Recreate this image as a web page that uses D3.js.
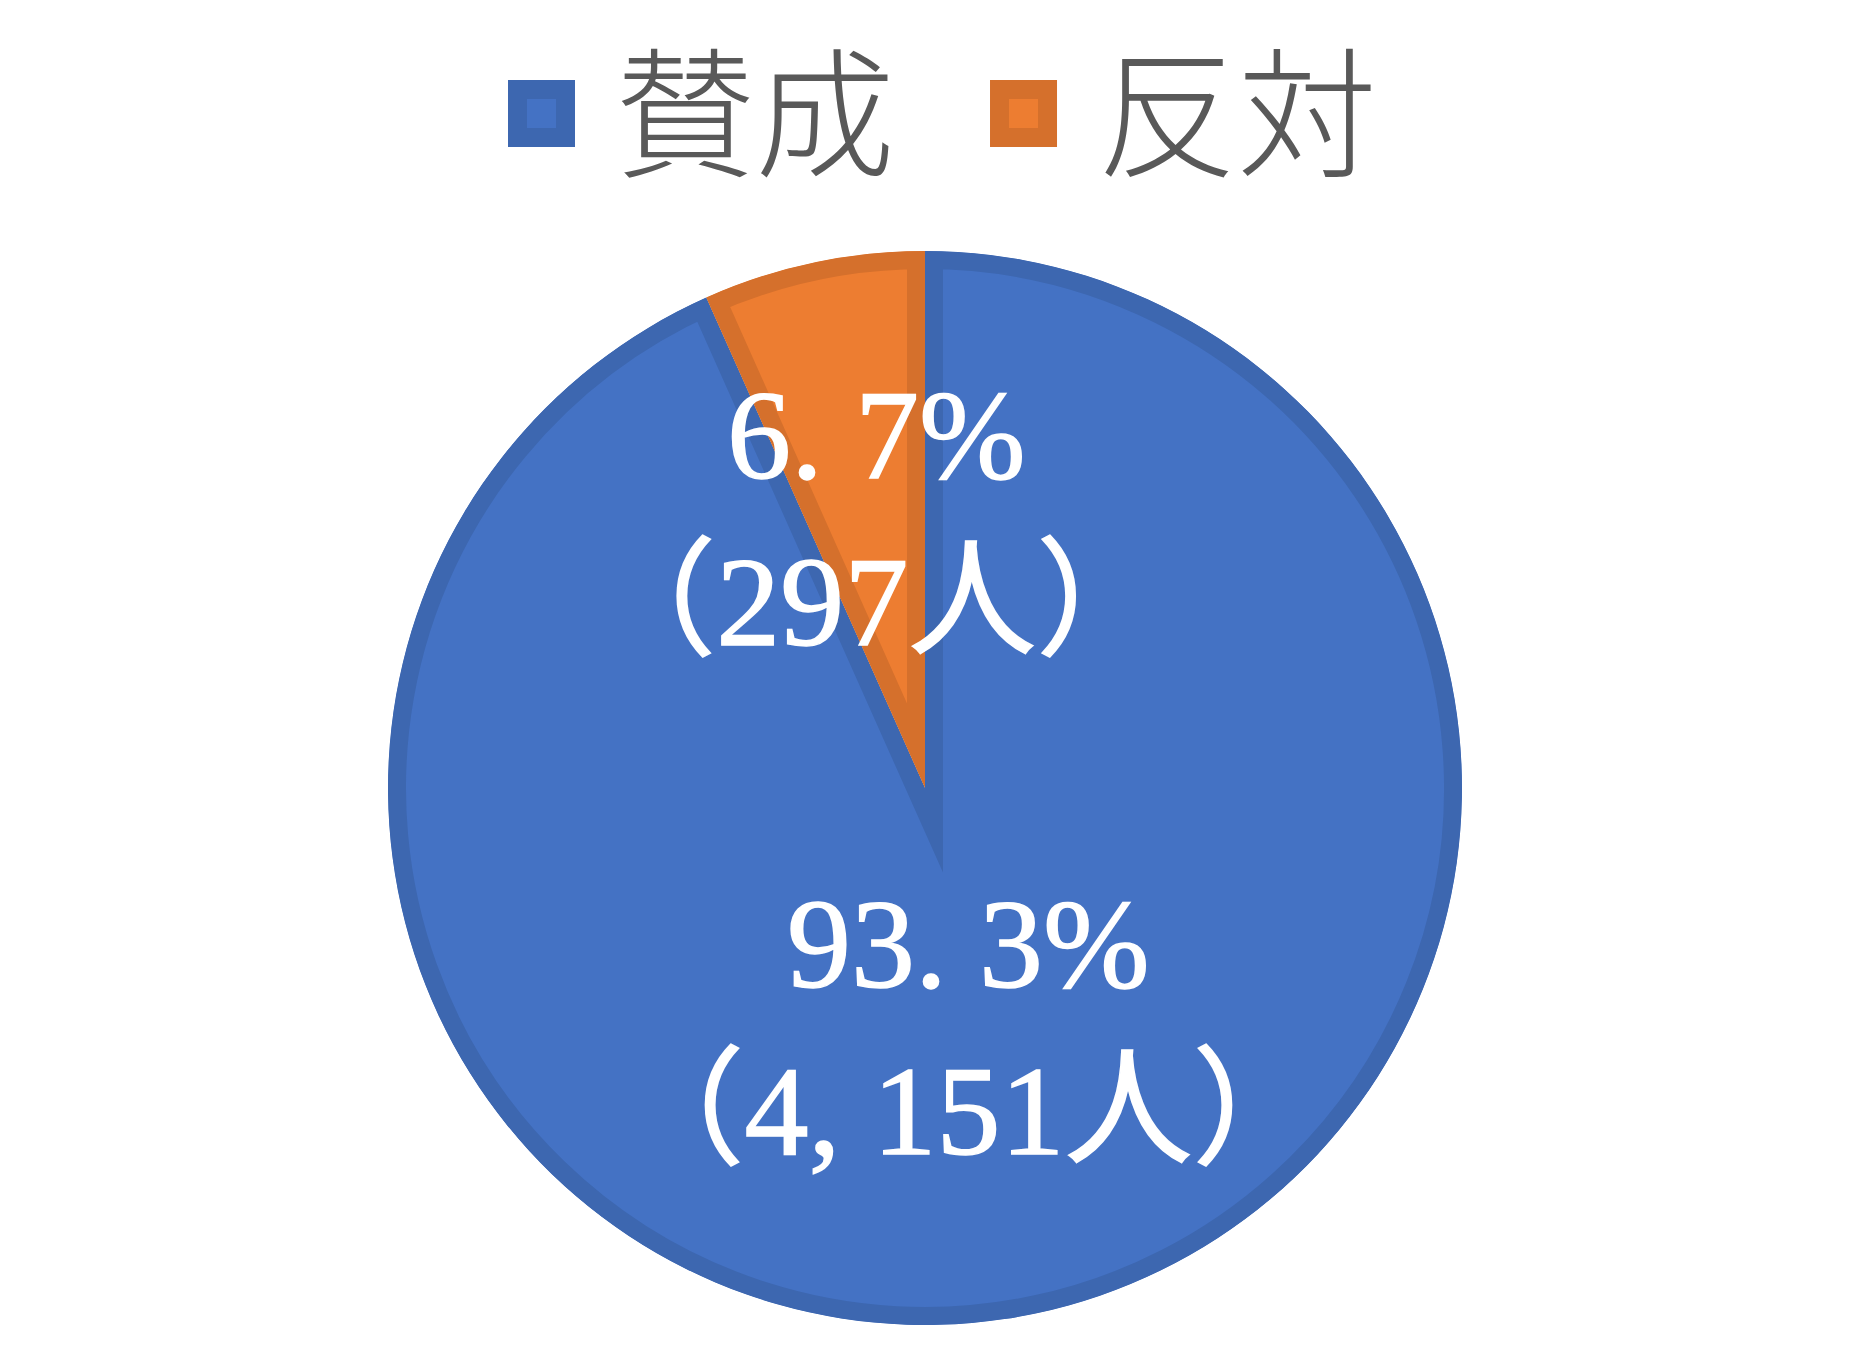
<!DOCTYPE html>
<html>
<head>
<meta charset="utf-8">
<script src="https://cdn.jsdelivr.net/npm/d3@7"></script>
<style>
  body { margin: 0; background: #fff; }
</style>
</head>
<body>
<div id="chart"></div>
<script>
// data
const categories = ['賛成', '反対'];
const counts = [4151, 297];
const fillColors = ['#4472C4', '#ED7D31'];
const borderColors = ['#3D67B0', '#D5702C'];

const W = 1849, H = 1370;
const cx = 925, cy = 788, R = 537;
const border = 18;              // inner border width of each slice
const labelRadius = [245, 275]; // where each data label sits along its slice bisector
const labelLean = 0.85;         // labels sit a little closer to the vertical than the bisector

const data = categories.map((c, i) => ({ name: c, count: counts[i], fill: fillColors[i], stroke: borderColors[i] }));
const total = d3.sum(counts);

const svg = d3.select('#chart').append('svg')
    .attr('width', W)
    .attr('height', H);

const pie = d3.pie().sort(null).value(d => d.count);
const arc = d3.arc().innerRadius(0).outerRadius(R);
const slices = pie(data);

const defs = svg.append('defs');
defs.selectAll('clipPath')
    .data(slices)
    .enter()
    .append('clipPath')
        .attr('id', (d, i) => 'slice-clip-' + i)
        .append('path')
            .attr('d', arc);

const g = svg.append('g').attr('transform', 'translate(' + cx + ',' + cy + ')');

g.selectAll('path.slice')
    .data(slices)
    .enter()
    .append('path')
        .attr('class', 'slice')
        .attr('d', arc)
        .attr('fill', d => d.data.fill)
        .attr('stroke', d => d.data.stroke)
        .attr('stroke-width', border * 2)
        .attr('stroke-linejoin', 'miter')
        .attr('stroke-miterlimit', 12)
        .attr('clip-path', (d, i) => 'url(#slice-clip-' + i + ')');

// data labels: "93. 3%" / "（4, 151人）"
const fmtPct = d3.format('.1f');
const fmtCount = d3.format(',');

const labels = g.selectAll('text.label')
    .data(slices)
    .enter()
    .append('text')
        .attr('class', 'label')
        .attr('text-anchor', 'middle')
        .style('font-family', '"Liberation Serif", "Noto Sans CJK JP", serif')
        .style('font-size', '128px')
        .style('fill', '#fff')
        .style('stroke', '#fff')
        .style('stroke-width', 1.5);

labels.each(function(d, i) {
    const a = (d.startAngle + d.endAngle) / 2;
    const x = labelRadius[i] * Math.sin(a) * labelLean;
    const y = -labelRadius[i] * Math.cos(a);
    const t = d3.select(this);
    t.append('tspan')
        .attr('x', x)
        .attr('y', y - 41)
        .text(fmtPct(d.data.count / total * 100).replace('.', '. ') + '%');
    t.append('tspan')
        .attr('x', x)
        .attr('y', y + 126)
        .text('（' + fmtCount(d.data.count).replace(',', ', ') + '人）');
});

// legend
const legend = svg.append('g').attr('class', 'legend');
const markerSize = 67, markerBorder = 19, textGap = 40, itemGap = 95;
const legendTop = 80;
let lx = 508;

data.forEach(function(d) {
    const item = legend.append('g').attr('transform', 'translate(' + lx + ',' + legendTop + ')');
    item.append('rect')
        .attr('x', markerBorder / 2)
        .attr('y', markerBorder / 2)
        .attr('width', markerSize - markerBorder)
        .attr('height', markerSize - markerBorder)
        .attr('fill', d.fill)
        .attr('stroke', d.stroke)
        .attr('stroke-width', markerBorder);
    const txt = item.append('text')
        .attr('x', markerSize + textGap)
        .attr('y', 86)
        .style('font-family', '"Noto Sans CJK JP", sans-serif')
        .style('font-weight', 300)
        .style('font-size', '140px')
        .style('fill', '#595959')
        .text(d.name);
    lx += markerSize + textGap + txt.node().getComputedTextLength() + itemGap;
});
</script>
</body>
</html>
